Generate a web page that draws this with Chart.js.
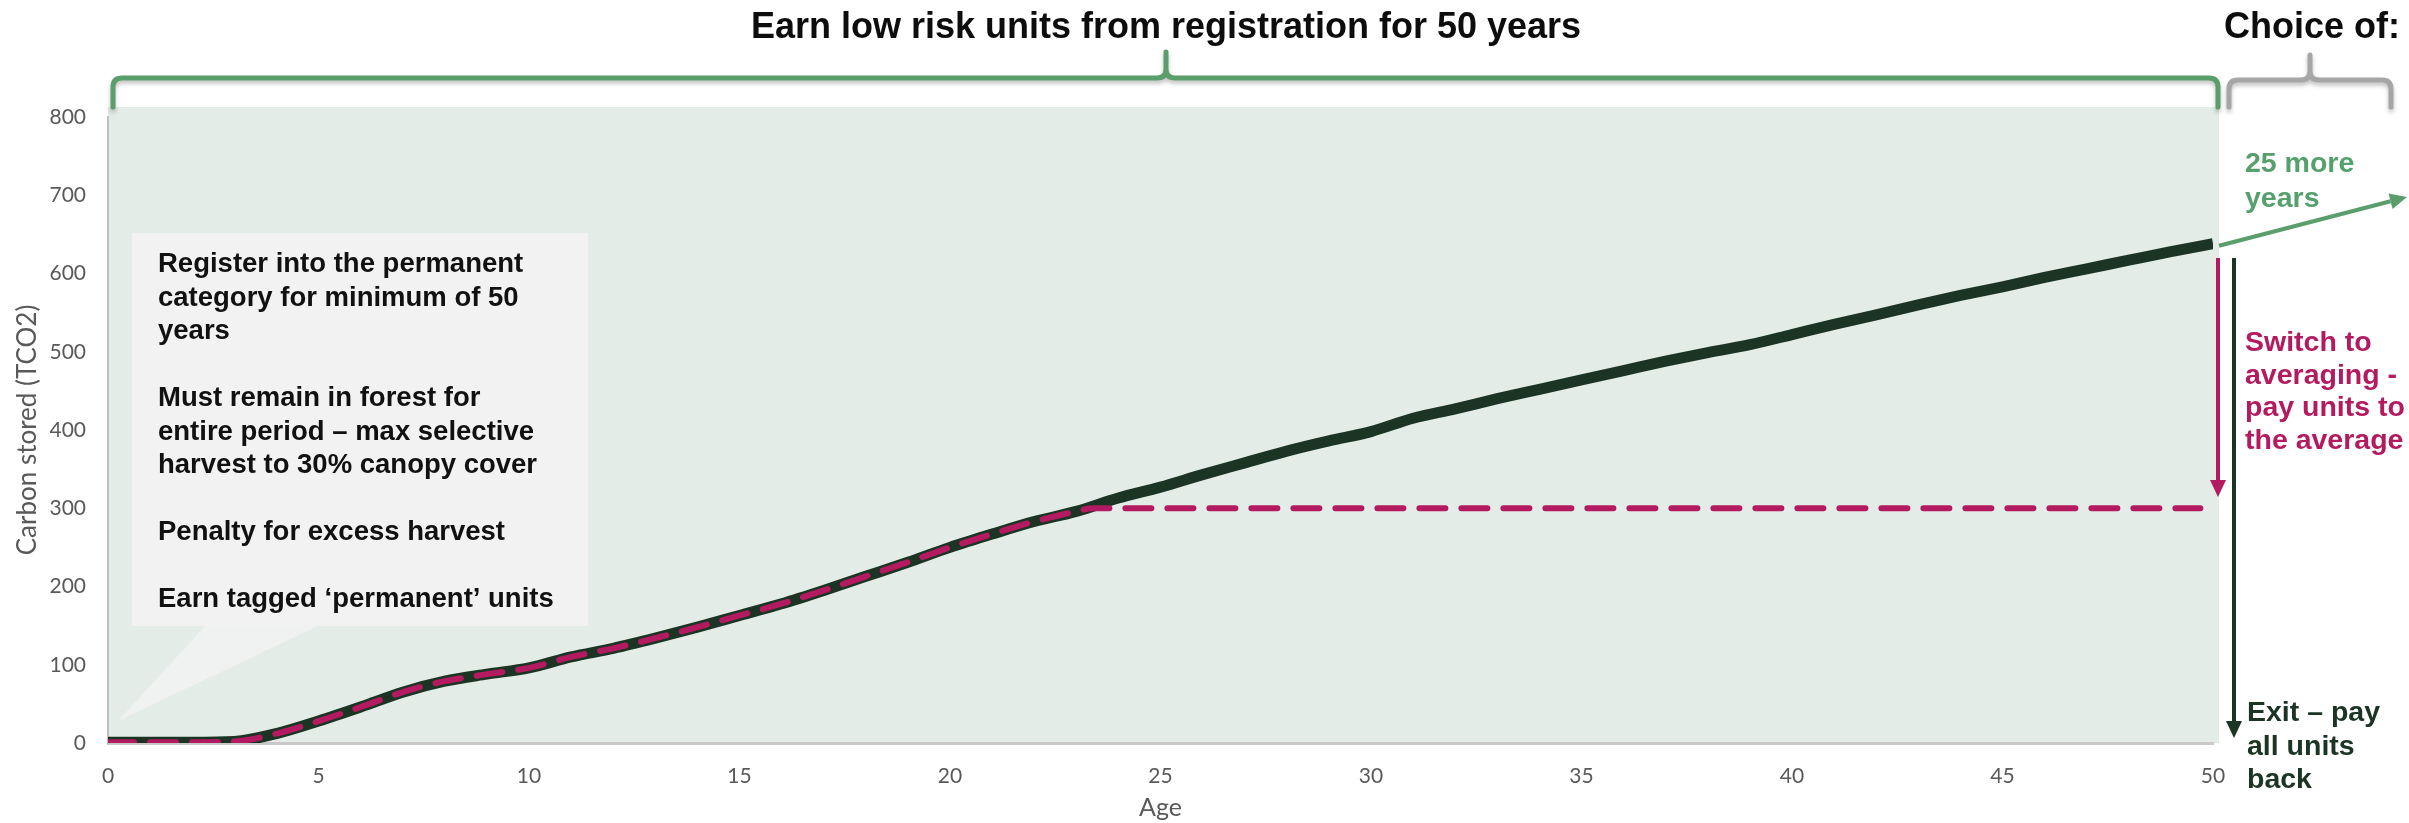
<!DOCTYPE html>
<html>
<head>
<meta charset="utf-8">
<script src="https://cdn.jsdelivr.net/npm/chart.js@4.4.1/dist/chart.umd.min.js"></script>
<style>
  html, body { margin: 0; padding: 0; background: #fff; }
  #wrap { width: 2409px; height: 823px; position: relative; }
</style>
</head>
<body>
<div id="wrap"><canvas id="c" width="2409" height="823"></canvas></div>
<script>
// ages and carbon stored
const ages = [0, 1, 2, 3, 4, 5, 6, 7, 8, 9, 10, 11, 12, 13, 14, 15, 16, 17, 18, 19, 20,
  21, 22, 23, 24, 25, 26, 27, 28, 29, 30, 31, 32, 33, 34, 35, 36, 37, 38, 39, 40,
  41, 42, 43, 44, 45, 46, 47, 48, 49, 50];
const carbon = [1, 1, 1, 2, 12, 28, 46, 65, 79, 88, 96, 110, 121, 134, 148, 163, 178, 195, 213, 231, 250,
  267, 283, 296, 313, 327, 343, 358, 373, 386, 398, 415, 427, 440, 452, 464, 476, 488, 499, 509, 522,
  535, 547, 560, 572, 583, 595, 606, 617, 628, 638];
// averaging path: follows the curve, then capped at the average
const avgAges = [0, 1, 2, 3, 4, 5, 6, 7, 8, 9, 10, 11, 12, 13, 14, 15, 16, 17, 18, 19, 20, 21, 22, 23, 23.4, 49.7];
const avgCarbon = [1, 1, 1, 2, 12, 28, 46, 65, 79, 88, 96, 110, 121, 134, 148, 163, 178, 195, 213, 231, 250, 267, 283, 296, 300, 300];
const xTicks = [0, 5, 10, 15, 20, 25, 30, 35, 40, 45, 50];
const yTicks = [0, 100, 200, 300, 400, 500, 600, 700, 800];

const titleText = 'Earn low risk units from registration for 50 years';
const choiceText = 'Choice of:';
const bubbleLines = [
  'Register into the permanent', 'category for minimum of 50', 'years', '',
  'Must remain in forest for', 'entire period \u2013 max selective', 'harvest to 30% canopy cover', '',
  'Penalty for excess harvest', '', 'Earn tagged \u2018permanent\u2019 units'
];
const moreLines = ['25 more', 'years'];
const switchLines = ['Switch to', 'averaging -', 'pay units to', 'the average'];
const exitLines = ['Exit \u2013 pay', 'all units', 'back'];

const DARK = '#1b3424', PINK = '#b41a5f', GREEN = '#5a9e6c', GREY = '#a6a6a6';
const BOLD = 'bold 28.5px "Liberation Sans", Arial, sans-serif';

function brace(ctx, x1, x2, yLine, yEnd, tipX, tipY, color) {
  const r = 9;
  ctx.save();
  ctx.strokeStyle = color; ctx.lineWidth = 5; ctx.lineCap = 'round'; ctx.lineJoin = 'round';
  ctx.shadowColor = 'rgba(0,0,0,0.25)'; ctx.shadowBlur = 4; ctx.shadowOffsetY = 3;
  ctx.beginPath();
  ctx.moveTo(x1, yEnd);
  ctx.lineTo(x1, yLine + r);
  ctx.quadraticCurveTo(x1, yLine, x1 + r, yLine);
  ctx.lineTo(tipX - r, yLine);
  ctx.quadraticCurveTo(tipX, yLine, tipX, yLine - r);
  ctx.lineTo(tipX, tipY);
  ctx.moveTo(tipX, yLine - r);
  ctx.quadraticCurveTo(tipX, yLine, tipX + r, yLine);
  ctx.lineTo(x2 - r, yLine);
  ctx.quadraticCurveTo(x2, yLine, x2, yLine + r);
  ctx.lineTo(x2, yEnd);
  ctx.stroke();
  ctx.restore();
}

function arrow(ctx, x1, y1, x2, y2, color, w) {
  const a = Math.atan2(y2 - y1, x2 - x1), hl = 17, hw = 8;
  ctx.save();
  ctx.strokeStyle = color; ctx.fillStyle = color; ctx.lineWidth = w;
  ctx.beginPath();
  ctx.moveTo(x1, y1);
  ctx.lineTo(x2 - Math.cos(a) * hl, y2 - Math.sin(a) * hl);
  ctx.stroke();
  ctx.translate(x2, y2); ctx.rotate(a);
  ctx.beginPath();
  ctx.moveTo(0, 0); ctx.lineTo(-hl, -hw); ctx.lineTo(-hl, hw); ctx.closePath();
  ctx.fill();
  ctx.restore();
}

function lines(ctx, arr, x, y0, step, color) {
  ctx.fillStyle = color;
  arr.forEach((t, i) => { if (t) ctx.fillText(t, x, y0 + i * step); });
}

const decor = {
  id: 'decor',
  beforeDraw(chart) {
    const { ctx, chartArea: a, scales: { x } } = chart;
    ctx.save();
    ctx.fillStyle = '#e3ece7';
    ctx.fillRect(a.left, a.top - 10, x.getPixelForValue(50) + 6 - a.left, a.bottom - a.top + 10);
    ctx.restore();
  },
  beforeDatasetsDraw(chart) {
    const ctx = chart.ctx;
    ctx.save();
    ctx.fillStyle = '#f2f2f2';
    ctx.fillRect(132, 233, 456, 393);
    ctx.fillStyle = 'rgba(242,242,242,0.85)';
    ctx.beginPath();
    ctx.moveTo(205, 626); ctx.lineTo(318, 626); ctx.lineTo(118, 721); ctx.closePath();
    ctx.fill();
    ctx.font = 'bold 27.5px "Liberation Sans", Arial, sans-serif';
    ctx.textAlign = 'left'; ctx.textBaseline = 'alphabetic';
    lines(ctx, bubbleLines, 158, 272, 33.5, '#111');
    ctx.restore();
  },
  afterDraw(chart) {
    const { ctx, scales: { x, y } } = chart;
    const x50 = x.getPixelForValue(50);
    ctx.save();
    brace(ctx, 113, x50 + 5, 78, 107, 1166, 52, GREEN);
    brace(ctx, 2229, 2391, 80, 107, 2310, 55, GREY);

    ctx.font = 'bold 36px "Liberation Sans", Arial, sans-serif';
    ctx.textBaseline = 'alphabetic';
    ctx.fillStyle = '#0d0d0d';
    ctx.textAlign = 'center';
    ctx.fillText(titleText, 1166, 38);
    ctx.textAlign = 'left';
    ctx.fillText(choiceText, 2224, 38);

    arrow(ctx, x50 + 6, y.getPixelForValue(638) + 2, 2407, 197, GREEN, 4);
    arrow(ctx, x50 + 5, 258, x50 + 5, 497, PINK, 4);
    arrow(ctx, x50 + 21, 258, x50 + 21, 738, DARK, 4);

    ctx.font = BOLD;
    lines(ctx, moreLines, 2245, 172, 35, '#55a06c');
    lines(ctx, switchLines, 2245, 351, 32.5, PINK);
    lines(ctx, exitLines, 2247, 721, 33.5, DARK);
    ctx.restore();
  }
};

new Chart(document.getElementById('c'), {
  type: 'line',
  data: {
    datasets: [
      {
        data: avgAges.map((a, i) => ({ x: a, y: avgCarbon[i] })),
        borderColor: PINK, borderWidth: 6, borderDash: [26, 16], borderCapStyle: 'round',
        pointRadius: 0, cubicInterpolationMode: 'monotone', order: 1
      },
      {
        data: ages.map((a, i) => ({ x: a, y: carbon[i] })),
        borderColor: DARK, borderWidth: 11,
        pointRadius: 0, cubicInterpolationMode: 'monotone', order: 2
      }
    ]
  },
  options: {
    responsive: false, animation: false, devicePixelRatio: 1,
    layout: { padding: { left: 0, top: 117, right: 196, bottom: 0 } },
    plugins: { legend: { display: false }, tooltip: { enabled: false } },
    scales: {
      x: {
        type: 'linear', min: 0, max: 50,
        afterFit: s => { s.height = 80; },
        afterBuildTicks: s => { s.ticks = xTicks.map(v => ({ value: v })); },
        grid: { display: false, drawTicks: false },
        border: { display: true, color: '#c8c8c8', width: 3 },
        ticks: { padding: 21, color: '#595959', font: { family: 'Lato', size: 21 }, maxRotation: 0 },
        title: { display: true, text: 'Age', color: '#595959', font: { family: 'Lato', size: 25 }, padding: { top: 0, bottom: 0 } }
      },
      y: {
        min: 0, max: 800,
        afterFit: s => { s.width = 108; },
        afterBuildTicks: s => { s.ticks = yTicks.map(v => ({ value: v })); },
        grid: { display: false, drawTicks: false },
        border: { display: true, color: '#bfbfbf', width: 2 },
        ticks: { padding: 22, color: '#595959', font: { family: 'Lato', size: 21 } },
        title: { display: true, text: 'Carbon stored (TCO2)', color: '#595959', font: { family: 'Lato', size: 26 }, padding: { top: 12, bottom: 0 } }
      }
    }
  },
  plugins: [decor]
});
</script>
</body>
</html>
